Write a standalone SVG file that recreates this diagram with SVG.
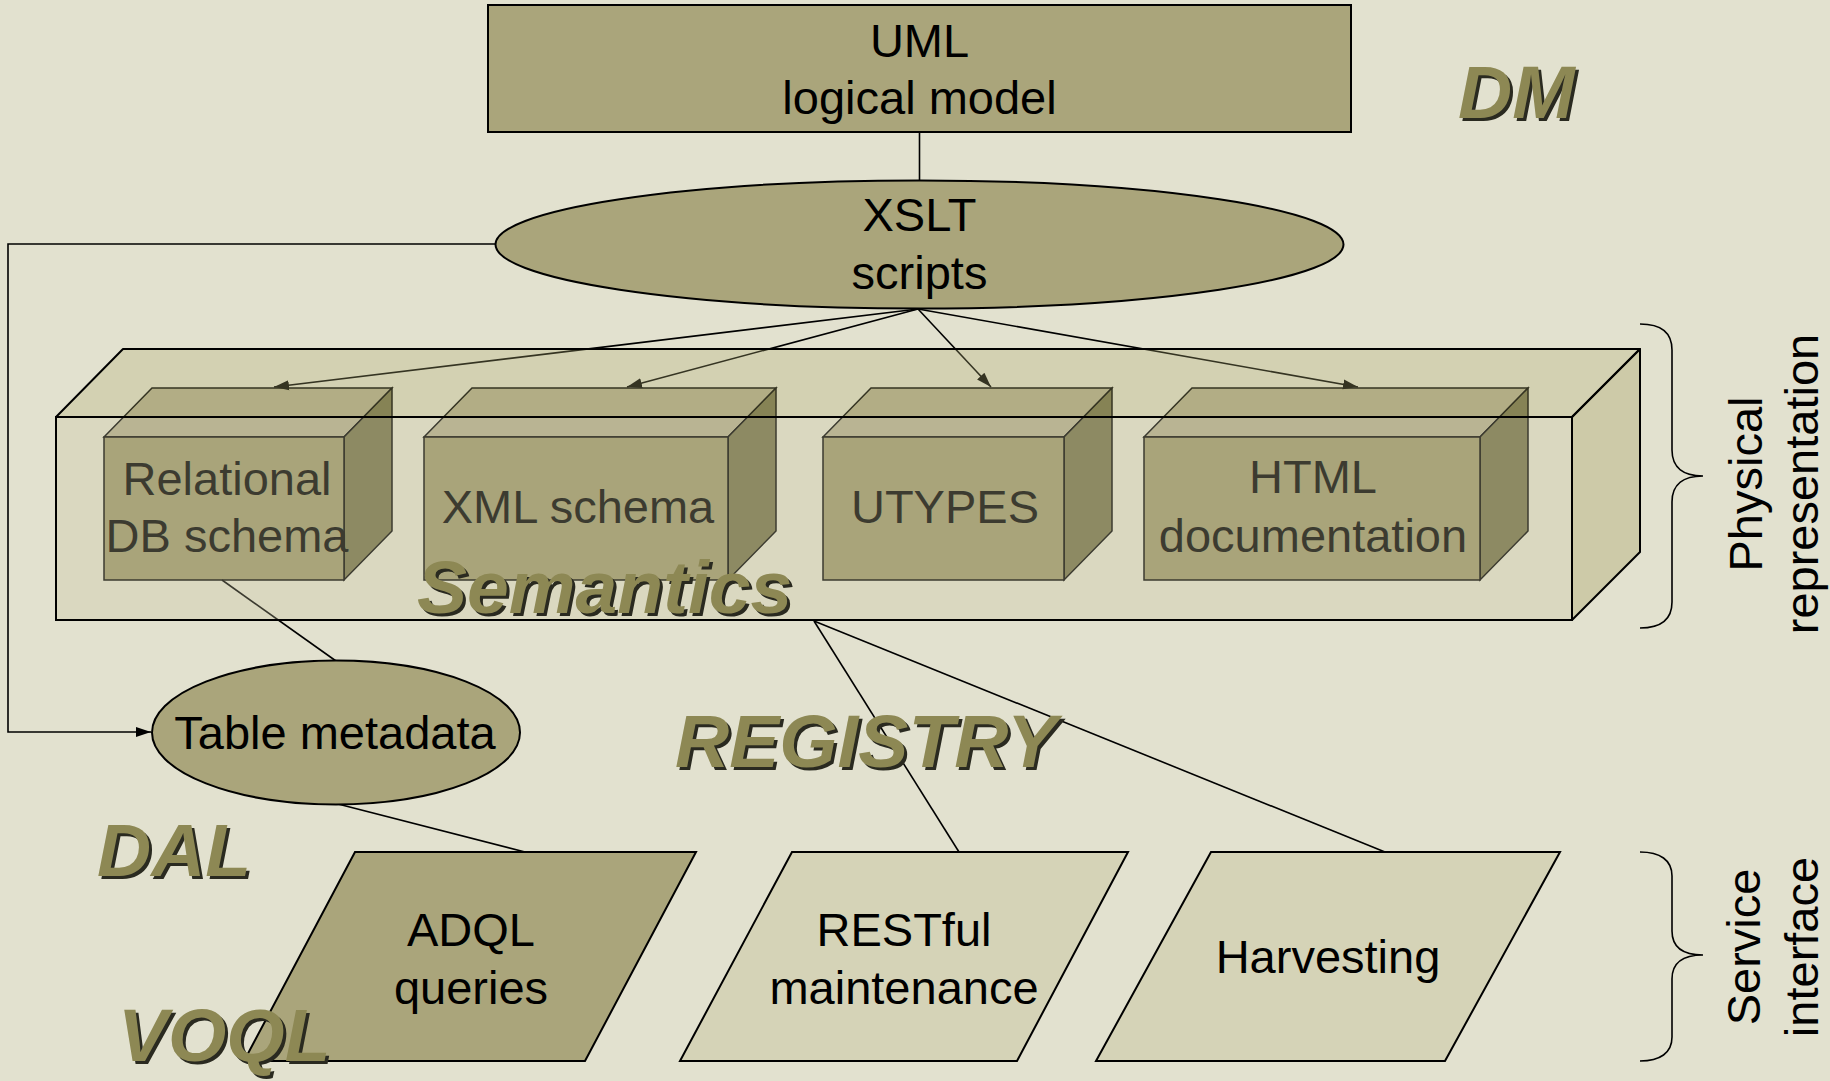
<svg xmlns="http://www.w3.org/2000/svg" width="1830" height="1081" viewBox="0 0 1830 1081">
<defs>
<style>
.lbl{font-family:"Liberation Sans",Arial,sans-serif;font-size:47px;fill:#000;text-anchor:middle}
.ol{fill:#aaa57b;stroke:#000;stroke-width:2}
.lt{fill:#d5d3b7;stroke:#000;stroke-width:2}
.cf{fill:#9c976b;stroke:#000;stroke-width:1.5}
.cs{fill:#757249;stroke:#000;stroke-width:1.5}
.ct{fill:#b3ae8f;stroke:#000;stroke-width:1.5}
.con{fill:none;stroke:#000;stroke-width:1.6}
.big{font-family:"Liberation Sans",Arial,sans-serif;font-size:75px;font-weight:bold;font-style:italic}
.bigs{fill:#2a2a20}
.bigf{fill:#8d8854}
.rot{font-family:"Liberation Sans",Arial,sans-serif;font-size:47px;fill:#000;text-anchor:middle}
</style>
<marker id="ah" markerWidth="16" markerHeight="12" refX="15" refY="6" orient="auto" markerUnits="userSpaceOnUse">
<path d="M0,1 L15,6 L0,11 z" fill="#000"/>
</marker>
</defs>
<rect width="1830" height="1081" fill="#e2e1cf"/>

<g id="cube-relational">
<polygon class="ct" points="104,437 152,388 392,388 344,437"/>
<polygon class="cs" points="344,437 392,388 392,531 344,580"/>
<rect class="cf" x="104" y="437" width="240" height="143"/>
<text class="lbl" x="227" y="495">Relational</text>
<text class="lbl" x="227" y="552">DB schema</text>
</g>
<g id="cube-xml">
<polygon class="ct" points="424,437 472,388 776,388 728,437"/>
<polygon class="cs" points="728,437 776,388 776,531 728,580"/>
<rect class="cf" x="424" y="437" width="304" height="143"/>
<text class="lbl" x="578" y="523">XML schema</text>
</g>
<g id="cube-utypes">
<polygon class="ct" points="823,437 871,388 1112,388 1064,437"/>
<polygon class="cs" points="1064,437 1112,388 1112,531 1064,580"/>
<rect class="cf" x="823" y="437" width="241" height="143"/>
<text class="lbl" x="945" y="523">UTYPES</text>
</g>
<g id="cube-html">
<polygon class="ct" points="1144,437 1192,388 1528,388 1480,437"/>
<polygon class="cs" points="1480,437 1528,388 1528,531 1480,580"/>
<rect class="cf" x="1144" y="437" width="336" height="143"/>
<text class="lbl" x="1313" y="493">HTML</text>
<text class="lbl" x="1313" y="552">documentation</text>
</g>

<g id="connectors">
<line class="con" x1="919.5" y1="132" x2="919.5" y2="181"/>
<line class="con" x1="918" y1="309" x2="274" y2="387" marker-end="url(#ah)"/>
<line class="con" x1="918" y1="309" x2="627" y2="387" marker-end="url(#ah)"/>
<line class="con" x1="918" y1="309" x2="991" y2="387" marker-end="url(#ah)"/>
<line class="con" x1="918" y1="309" x2="1358" y2="387" marker-end="url(#ah)"/>
<polyline class="con" points="496,244 8,244 8,732 151,732" marker-end="url(#ah)"/>
<line class="con" x1="222" y1="580" x2="336" y2="661"/>
<line class="con" x1="338" y1="804" x2="525" y2="852"/>
<line class="con" x1="814" y1="621" x2="959" y2="852"/>
<line class="con" x1="814" y1="621" x2="1385" y2="852"/>
</g>

<g id="semantics-box">
<polygon points="56,417 123,349 1640,349 1572,417" fill="#b0ac72" fill-opacity="0.3" stroke="#000" stroke-width="2" stroke-linejoin="round"/>
<polygon points="1572,417 1640,349 1640,552 1572,620" fill="#9c9450" fill-opacity="0.3" stroke="#000" stroke-width="2" stroke-linejoin="round"/>
<rect x="56" y="417" width="1516" height="203" fill="#c7c3a0" fill-opacity="0.3" stroke="#000" stroke-width="2"/>
</g>

<g id="uml">
<rect class="ol" x="488" y="5" width="863" height="127"/>
<text class="lbl" x="919.5" y="57">UML</text>
<text class="lbl" x="919.5" y="114">logical model</text>
</g>
<g id="xslt">
<ellipse class="ol" cx="919.5" cy="244.5" rx="424" ry="64"/>
<text class="lbl" x="919.5" y="231">XSLT</text>
<text class="lbl" x="919.5" y="289">scripts</text>
</g>
<g id="table-metadata">
<ellipse class="ol" cx="336" cy="732.5" rx="184" ry="72"/>
<text class="lbl" x="335" y="749">Table metadata</text>
</g>
<g id="adql">
<polygon class="ol" points="355,852 696,852 585,1061 244,1061"/>
<text class="lbl" x="471" y="946">ADQL</text>
<text class="lbl" x="471" y="1004">queries</text>
</g>
<g id="restful">
<polygon class="lt" points="792,852 1128,852 1017,1061 680,1061"/>
<text class="lbl" x="904" y="946">RESTful</text>
<text class="lbl" x="904" y="1004">maintenance</text>
</g>
<g id="harvesting">
<polygon class="lt" points="1211,852 1560,852 1445,1061 1096,1061"/>
<text class="lbl" x="1328" y="973">Harvesting</text>
</g>

<g id="labels">
<text class="big bigs" x="1461" y="121">DM</text>
<text class="big bigf" x="1458" y="118">DM</text>
<text class="big bigs" x="420" y="616">Semantics</text>
<text class="big bigf" x="417" y="613">Semantics</text>
<text class="big bigs" x="678" y="770">REGISTRY</text>
<text class="big bigf" x="675" y="767">REGISTRY</text>
<text class="big bigs" x="100" y="879">DAL</text>
<text class="big bigf" x="97" y="876">DAL</text>
<text class="big bigs" x="121" y="1064">VOQL</text>
<text class="big bigf" x="118" y="1061">VOQL</text>
</g>

<g id="physical-representation">
<path class="con" d="M1640,324 C1660,324 1672,332 1672,350 L1672,450 C1672,468 1684,476 1703,476 C1684,476 1672,484 1672,502 L1672,602 C1672,620 1660,628 1640,628"/>
<text class="rot" transform="translate(1762,484) rotate(-90)">Physical</text>
<text class="rot" transform="translate(1818,484) rotate(-90)">representation</text>
</g>
<g id="service-interface">
<path class="con" d="M1640,852 C1660,852 1672,860 1672,876 L1672,931 C1672,948 1684,955 1703,955 C1684,955 1672,962 1672,979 L1672,1037 C1672,1053 1660,1061 1640,1061"/>
<text class="rot" transform="translate(1760,947) rotate(-90)">Service</text>
<text class="rot" transform="translate(1818,947) rotate(-90)">interface</text>
</g>
</svg>
